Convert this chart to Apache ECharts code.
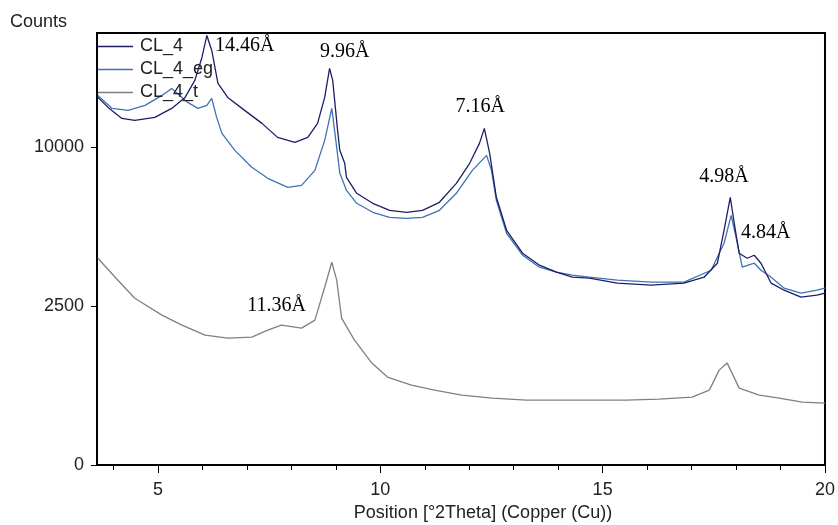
<!DOCTYPE html>
<html><head><meta charset="utf-8">
<script src="https://cdn.jsdelivr.net/npm/echarts@6/dist/echarts.min.js"></script>
<style>html,body{margin:0;padding:0;background:#fff}#c{width:838px;height:525px}</style>
</head><body><div id="c"></div>
<script>
// 2Theta (deg), Counts
const cl4 = [[3.65,13392],[3.88,12674],[4.19,11907],[4.48,11770],[4.93,11976],[5.31,12603],[5.61,13392],[5.83,14658],[5.99,16461],[6.10,18285],[6.21,17031],[6.35,14430],[6.57,13392],[6.95,12463],[7.34,11566],[7.69,10639],[8.08,10317],[8.37,10639],[8.59,11566],[8.75,13392],[8.86,15586],[8.93,14658],[9.04,11098],[9.09,9812],[9.20,9019],[9.24,8202],[9.47,7316],[9.83,6788],[10.21,6430],[10.59,6330],[10.95,6430],[11.33,6840],[11.71,7864],[12.01,9019],[12.23,10253],[12.34,11231],[12.46,9626],[12.61,7103],[12.84,5461],[13.20,4444],[13.58,3956],[13.96,3684],[14.32,3495],[14.70,3458],[15.33,3276],[16.09,3204],[16.83,3276],[17.28,3495],[17.58,4035],[17.73,5461],[17.87,7103],[17.96,5791],[18.07,4444],[18.25,4237],[18.41,4361],[18.56,4035],[18.79,3276],[19.08,3028],[19.46,2791],[19.82,2858],[20.0,2926]];
const cl4eg = [[3.65,13538],[3.97,12603],[4.33,12463],[4.71,12816],[5.09,13538],[5.31,14055],[5.67,13031],[5.90,12603],[6.10,12816],[6.21,13319],[6.32,11976],[6.44,10900],[6.73,9812],[7.11,8782],[7.47,8145],[7.92,7642],[8.23,7753],[8.53,8606],[8.75,10445],[8.91,12603],[9.02,10000],[9.09,8432],[9.24,7479],[9.47,6788],[9.83,6330],[10.21,6082],[10.59,6033],[10.95,6082],[11.33,6430],[11.71,7316],[12.07,8606],[12.39,9503],[12.50,8606],[12.61,6944],[12.84,5323],[13.20,4361],[13.58,3877],[13.96,3684],[14.32,3570],[14.70,3495],[15.33,3385],[16.09,3312],[16.83,3312],[17.44,3760],[17.73,4874],[17.89,6180],[18.00,5141],[18.14,3877],[18.41,4035],[18.56,3760],[18.79,3495],[19.08,3098],[19.46,2926],[19.82,3028],[20.0,3098]];
const cl4t = [[3.65,4237],[4.10,3385],[4.48,2758],[5.09,2225],[5.54,1938],[6.06,1671],[6.57,1595],[7.11,1620],[7.47,1802],[7.78,1938],[8.23,1856],[8.53,2079],[8.75,3133],[8.91,4075],[9.02,3385],[9.13,2137],[9.42,1545],[9.81,1029],[10.16,766],[10.70,633],[11.22,556],[11.83,485],[12.52,444],[13.29,418],[14.03,418],[14.77,418],[15.53,418],[16.27,431],[17.01,457],[17.40,556],[17.62,892],[17.80,1029],[17.91,837],[18.07,586],[18.52,485],[18.97,444],[19.49,393],[20.0,380]];
const seriesNames = ['CL_4','CL_4_eg','CL_4_t'];
const xTicks = [5,10,15,20];
const xMinorTicks = [4,6,7,8,9,11,12,13,14,16,17,18,19];
const yTicks = [0,2500,10000];
const annotations = [
  {text:'14.46Å', x:6.95, y:17400},
  {text:'9.96Å', x:9.20, y:16950},
  {text:'7.16Å', x:12.25, y:12745},
  {text:'4.98Å', x:17.73, y:8260},
  {text:'4.84Å', x:18.67, y:5323},
  {text:'11.36Å', x:7.67, y:2500}
];

const sq = d => d.map(p => [p[0], Math.sqrt(p[1])]);
const sans = 'Liberation Sans, Arial, sans-serif';
const serif = 'Liberation Serif, Times New Roman, serif';
const chart = echarts.init(document.getElementById('c'), null, {renderer:'canvas'});
const xmin = 3.63, xmax = 20;
chart.setOption({
  animation:false,
  backgroundColor:'#fff',
  grid:{left:97, right:11, top:33, bottom:60, show:true, borderColor:'#000', borderWidth:2},
  legend:{orient:'vertical', left:98, top:35, padding:0, icon:'rect', itemWidth:35, itemHeight:1.3, itemGap:0,
    data:seriesNames, textStyle:{fontFamily:sans, fontSize:18, lineHeight:23, color:'#222', padding:[0,0,0,2]}},
  xAxis:[{type:'value', min:xmin, max:xmax, position:'bottom',
    axisLine:{lineStyle:{color:'#000', width:2}},
    axisTick:{customValues:xTicks, length:8, lineStyle:{color:'#000'}},
    axisLabel:{customValues:xTicks, margin:16, fontFamily:sans, fontSize:18, color:'#222'},
    splitLine:{show:false}},
   {type:'value', min:xmin, max:xmax, position:'bottom',
    axisLine:{show:false},
    axisTick:{customValues:xMinorTicks, length:5, lineStyle:{color:'#000'}},
    axisLabel:{show:false}, splitLine:{show:false}}],
  yAxis:{type:'value', min:0, max:136,
    axisLine:{lineStyle:{color:'#000', width:2}},
    axisTick:{customValues:yTicks.map(Math.sqrt), length:6, lineStyle:{color:'#000'}},
    axisLabel:{customValues:yTicks.map(Math.sqrt), margin:13, fontFamily:sans, fontSize:18, color:'#222',
      formatter:v => String(Math.round(v*v))},
    splitLine:{show:false}},
  graphic:[
    {type:'text', left:10, top:13, style:{text:'Counts', font:'18px '+sans, fill:'#222'}},
    {type:'text', x:483, y:504, style:{text:'Position [°2Theta] (Copper (Cu))', font:'18px '+sans, fill:'#222', textAlign:'center'}}
  ],
  series:[
    {name:seriesNames[0], type:'line', data:sq(cl4), symbol:'none', lineStyle:{color:'#1e1e66', width:1.3}, itemStyle:{color:'#1e1e66'}, z:3,
      markPoint:{symbol:'circle', symbolSize:0, silent:true,
        label:{show:true, position:'inside', fontFamily:serif, fontSize:20, color:'#000', formatter:p => p.name},
        data:annotations.map(a => ({name:a.text, coord:[a.x, Math.sqrt(a.y)]}))}},
    {name:seriesNames[1], type:'line', data:sq(cl4eg), symbol:'none', lineStyle:{color:'#3f72b4', width:1.3}, itemStyle:{color:'#3f72b4'}, z:2},
    {name:seriesNames[2], type:'line', data:sq(cl4t), symbol:'none', lineStyle:{color:'#808080', width:1.3}, itemStyle:{color:'#808080'}, z:1}
  ]
});
</script></body></html>
